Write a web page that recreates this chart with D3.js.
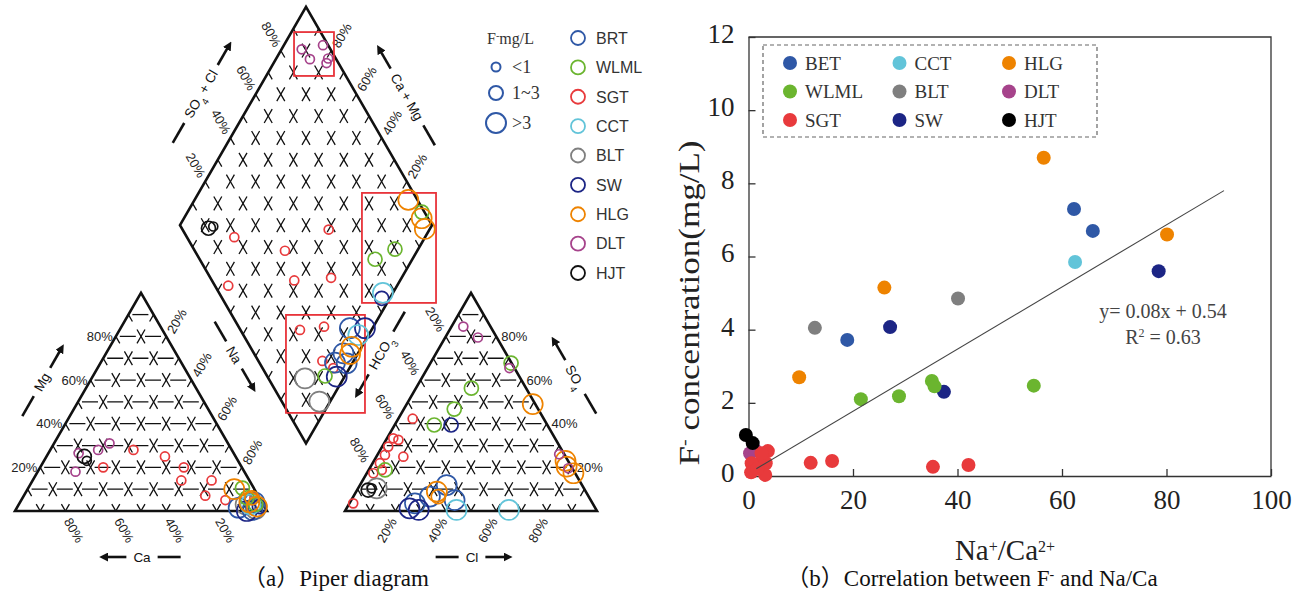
<!DOCTYPE html>
<html>
<head>
<meta charset="utf-8">
<script src="https://cdn.jsdelivr.net/npm/d3@7"></script>
<style>
body{margin:0;background:#fff;}
</style>
</head>
<body>
<div id="container"></div>
<script>
// ---------- piper data ----------
// sites in the piper legend
let siteNames = ["BRT","WLML","SGT","CCT","BLT","SW","HLG","DLT","HJT"];
let siteColors = ["#2f58a6","#6bb52f","#e83a3c","#62c4d9","#7f7f7f","#1c2585","#ee8300","#a6438b","#111111"];
let fClassLabels = ["<1","1~3",">3"];
let drawOrder = ["SGT","BLT","BRT","SW","CCT","WLML","HLG","DLT","HJT"];

// cation triangle: Mg %, Na+K %, F class (0 <1, 1 1~3, 2 >3)
let cationSite = ["DLT","DLT","DLT","DLT","HJT","HJT","SGT","SGT","SGT","SGT","SGT","SGT","SGT","SGT","SGT",
                  "BLT","BLT","BRT","BRT","BRT","SW","SW","CCT","WLML","WLML","WLML","HLG","HLG","HLG","HLG"];
let cationMg   = [18,26.5,28,31,25,23,20,28,25,20,14,14,7,5,6,
                  3,1,1.5,0.5,4,0,2,3,10.5,6,3,10,4,2,6];
let cationNa   = [15,12,19,22,15,17,25,33,47,57,59,71,72,81,92,
                  90,95,88,94,93,92,96,92,85,89,94,82,91,95,91];
let cationF    = [0,0,0,0,1,0,0,0,0,0,0,0,0,0,0,
                  2,2,2,2,2,2,1,2,1,1,1,2,2,2,1];

// anion triangle: SO4 %, Cl %, F class
let anionSite = ["DLT","DLT","DLT","DLT","DLT","WLML","WLML","WLML","WLML","WLML",
                 "HLG","HLG","HLG","HLG","HLG","HLG","SGT","SGT","SGT","SGT","SGT","SGT","SGT","SGT","SGT","SGT",
                 "SW","SW","SW","HJT","HJT","BLT","BRT","BRT","BRT","BRT","CCT","CCT"];
let anionSO4  = [84.5,79.5,65.5,26,19.6,67.8,56.3,46.7,39.4,18.8,
                 49,20.3,17.3,23,8.9,6.6,42.3,33.3,32.6,24.9,29.5,25.7,21.9,17.3,18.8,3.5,
                 39.4,0.5,1.2,9.6,10.4,10.4,11.9,3.5,6.6,5,0.5,0.5];
let anionCl   = [4.7,13,32.5,72,78.8,32,22,20,15.7,6.5,
                 50,77.8,82,76,32,33.7,5.7,2.5,4.9,10.7,2.4,3,2.9,2.6,5.2,1.5,
                 22.4,29,25,4.4,5.4,7.4,34.4,26,30.4,41,44,64.8];
let anionF    = [0,0,0,0,0,1,1,1,1,1,
                 2,2,2,2,2,1,0,0,0,0,0,0,0,0,0,0,
                 1,2,2,1,0,2,2,2,2,2,2,2];

// diamond: Na+K %, SO4+Cl %, F class
let diamondSite = ["DLT","DLT","DLT","DLT","DLT","HJT","HJT","SGT","SGT","SGT","SGT","SGT","SGT","SGT","SGT","SGT","SGT",
                   "HLG","HLG","HLG","HLG","HLG","WLML","WLML","WLML","WLML","CCT","CCT","SW","SW","SW",
                   "BRT","BRT","BRT","BRT","BLT","BLT"];
let diamondNa = [8,13.5,15.5,21,20.6,12,13.5,24.3,60,47.5,33,58,72,71.6,80.4,87.6,93.6,
                 84.8,94.3,98,96,97,93,85.2,90.8,92.1,96,95.9,96.8,97,96.9,
                 91,94.2,97.8,93,84.7,95.7];
let diamondSC = [88.6,89.6,98,95.3,97,10.6,12.9,18.8,58,35.8,5.3,32.7,47.9,23.6,33.9,25.4,28.1,
                 96.4,97.5,96.3,40.3,38,99,69.6,79.8,23,65,45.6,63.3,49.8,27.5,
                 43.8,35.5,34.5,30,14.5,14.9];
let diamondF  = [0,0,0,0,0,1,0,0,0,0,0,0,0,0,0,0,0,
                 2,2,2,2,2,1,1,1,1,2,2,1,2,2,
                 2,2,2,2,2,2];

// highlighted regions of the diamond (Na+K %, SO4+Cl % of two corners)
let boxNa0 = [1,64.8,62.6], boxSC0 = [89.5,79.6,21.5];
let boxNa1 = [26.9,119.4,116.4], boxSC1 = [95.3,83.8,30.4];

let gridSteps = [10,20,30,40,50,60,70,80,90];
let pctLabels = [20,40,60,80];

// ---------- scatter data ----------
let legendSites = ["BET","CCT","HLG","WLML","BLT","DLT","SGT","SW","HJT"];
let legendColors = ["#2f58a6","#62c4d9","#ee8300","#6bb52f","#7f7f7f","#a6438b","#e83a3c","#1c2585","#000000"];
let scatterSite = ["DLT","DLT",
  "HLG","HLG","HLG","HLG","BET","BET","BET","CCT","SW","SW","SW","BLT","BLT",
  "WLML","WLML","WLML","WLML","WLML",
  "SGT","SGT","SGT","SGT","SGT","SGT","SGT","SGT","SGT","SGT","SGT","SGT",
  "HJT","HJT"];
let naCaRatio = [0.3,1.2,
  56.5,80.1,26,9.7,62.3,65.9,18.9,62.5,78.5,27.1,37.4,40.1,12.7,
  35.1,35.6,54.6,21.5,28.8,
  11.9,16,35.3,42.1,3.7,2.7,0.6,3.3,0.5,3.2,1.7,2.5,
  -0.5,0.8];
let fConc = [0.62,0.72,
  8.7,6.6,5.15,2.7,7.3,6.7,3.72,5.85,5.6,4.07,2.3,4.85,4.05,
  2.6,2.45,2.47,2.1,2.18,
  0.36,0.41,0.25,0.3,0.68,0.5,0.35,0.35,0.1,0.03,0.2,0.62,
  1.12,0.9];
let trendX = [1.5, 91];
let trendY = [0.2, 7.8];
let xTicks = [0,20,40,60,80,100];
let yTicks = [0,2,4,6,8,10,12];

// ---------- svg ----------
let w = 1304, h = 598;
let viz = d3.select("#container").append("svg")
    .attr("width", w).attr("height", h)
    .style("font-family", "'Liberation Sans', Arial, sans-serif");

viz.append("defs").append("marker")
    .attr("id","arr").attr("viewBox","0 -5 10 10")
    .attr("refX",2).attr("refY",0)
    .attr("markerWidth",9).attr("markerHeight",9)
    .attr("markerUnits","userSpaceOnUse")
    .attr("orient","auto")
    .append("path").attr("d","M0,-5L10,0L0,5Z").attr("fill","#111");

// ---------- piper geometry ----------
let side = 252, tri = side * Math.sqrt(3) / 2, baseY = 511, catX = 15, gap = 78;
let anX = catX + side + gap;
let lenS = d3.scaleLinear().domain([0,100]).range([0, side]);
let lenH = d3.scaleLinear().domain([0,100]).range([0, tri]);
let dmBottom = [catX + side + gap/2, baseY - gap/2 * Math.sqrt(3)];
let dmLeft = [dmBottom[0] - side/2, dmBottom[1] - tri];

function catPos(mg, na){ return [catX + lenS(na) + lenS(mg)/2, baseY - lenH(mg)]; }
function anPos(so4, cl){ return [anX + lenS(cl) + lenS(so4)/2, baseY - lenH(so4)]; }
function dmPos(na, sc){ return [dmLeft[0] + lenS(na + sc)/2, dmLeft[1] + lenH(na - sc)]; }

let piper = viz.append("g").classed("piper", true);
let gridG = piper.append("g").attr("stroke","#111").attr("stroke-width",1.3).attr("fill","none");

// dashes: slanted ones cross at the 10% points, flat ones sit between them
function gridLine(p0, p1, horizontal){
    gridG.append("line")
        .attr("x1",p0[0]).attr("y1",p0[1]).attr("x2",p1[0]).attr("y2",p1[1])
        .attr("stroke-dasharray", "16 9.2")
        .attr("stroke-dashoffset", horizontal ? 21.2 : 8);
}

gridSteps.forEach(function(p){
    // cation triangle
    gridLine(catPos(p,0), catPos(p,100-p), true);
    gridLine(catPos(0,p), catPos(100-p,p), false);
    gridLine(catPos(0,100-p), catPos(100-p,0), false);
    // anion triangle
    gridLine(anPos(p,0), anPos(p,100-p), true);
    gridLine(anPos(0,p), anPos(100-p,p), false);
    gridLine(anPos(0,100-p), anPos(100-p,0), false);
    // diamond
    gridLine(dmPos(p,0), dmPos(p,100), false);
    gridLine(dmPos(0,p), dmPos(100,p), false);
});

let outline = d3.line();
let frameG = piper.append("g").attr("stroke","#111").attr("stroke-width",2.6).attr("fill","none").attr("stroke-linejoin","miter");
frameG.append("path").attr("d", outline([catPos(0,0), catPos(0,100), catPos(100,0)]) + "Z");
frameG.append("path").attr("d", outline([anPos(0,0), anPos(0,100), anPos(100,0)]) + "Z");
frameG.append("path").attr("d", outline([dmPos(0,0), dmPos(0,100), dmPos(100,100), dmPos(100,0)]) + "Z");

// percent labels
let pctG = piper.append("g").attr("font-size",13).attr("fill","#222");
function pctText(x, y, angle, anchor, label){
    pctG.append("text")
        .attr("transform","translate(" + x + "," + y + ") rotate(" + angle + ")")
        .attr("text-anchor", anchor).attr("dy","0.35em")
        .text(label + "%");
}
pctLabels.forEach(function(p){
    let q;
    q = catPos(p,0);        pctText(q[0]-3, q[1], 0, "end", p);          // Mg
    q = catPos(0,100-p);    pctText(q[0]+2, q[1]+8, 60, "start", p);     // Ca
    q = catPos(100-p,p);    pctText(q[0]+4, q[1]-4, -60, "start", p);    // Na
    q = anPos(100-p,0);     pctText(q[0]-4, q[1]-6, 60, "end", p);       // HCO3
    q = anPos(p,100-p);     pctText(q[0]+5, q[1], 0, "start", p);        // SO4
    q = anPos(0,p);         pctText(q[0]-2, q[1]+8, -60, "end", p);      // Cl
    q = dmPos(0,p);         pctText(q[0]-3, q[1]-5, 60, "end", p);       // SO4+Cl
    q = dmPos(p,100);       pctText(q[0]+4, q[1]-4, -60, "start", 100-p);// Ca+Mg
});

// axis names with dash and arrow
function axisName(cx, cy, angle, parts, arrowFirst){
    let g = piper.append("g").attr("transform","translate(" + cx + "," + cy + ") rotate(" + angle + ")");
    let t = g.append("text").attr("text-anchor","middle").attr("dy","0.35em").attr("font-size",13.5).attr("fill","#111");
    parts.forEach(function(p){
        let ts = t.append("tspan").text(p[0]);
        if (p[1]) ts.attr("font-size",9.5).attr("baseline-shift","sub");
    });
    let hw = t.node().getComputedTextLength()/2;
    let a0 = arrowFirst ? -hw-7 : hw+7;
    let a1 = arrowFirst ? -hw-27 : hw+27;
    let d0 = arrowFirst ? hw+7 : -hw-7;
    let d1 = arrowFirst ? hw+30 : -hw-30;
    g.append("line").attr("x1",a0).attr("y1",0).attr("x2",a1).attr("y2",0)
        .attr("stroke","#111").attr("stroke-width",2.6).attr("marker-end","url(#arr)");
    g.append("line").attr("x1",d0).attr("y1",0).attr("x2",d1).attr("y2",0)
        .attr("stroke","#111").attr("stroke-width",2.6);
}
axisName(42, 382, -60, [["Mg"]], false);
axisName(234, 355, 60, [["Na"]], false);
axisName(142, 557, 0, [["Ca"]], true);
axisName(472, 557, 0, [["Cl"]], false);
axisName(575, 377, 60, [["SO"],["4",true]], true);
axisName(381, 353, -60, [["HCO"],["3",true]], true);
axisName(201, 94, -60, [["SO"],["4",true],[" + Cl"]], false);
axisName(407, 97, 60, [["Ca + Mg"]], true);

// red boxes
let boxG = piper.append("g").attr("fill","none").attr("stroke","#e8333a").attr("stroke-width",1.8);
boxNa0.forEach(function(d,i){
    let a = dmPos(boxNa0[i], boxSC0[i]);
    let b = dmPos(boxNa1[i], boxSC1[i]);
    boxG.append("rect").attr("x",a[0]).attr("y",a[1]).attr("width",b[0]-a[0]).attr("height",b[1]-a[1]);
});

// sample circles
let colorOf = d3.scaleOrdinal().domain(siteNames).range(siteColors);
let rOf = d3.scaleOrdinal().domain([0,1,2]).range([4.5,7,10]);

function drawSamples(sites, posFn, va, vb, fc){
    let rows = sites.map(function(s,i){ return {site:s, p:posFn(va[i], vb[i]), f:fc[i]}; });
    rows.sort(function(a,b){ return drawOrder.indexOf(a.site) - drawOrder.indexOf(b.site); });
    piper.append("g").selectAll("circle").data(rows).enter().append("circle")
        .attr("cx", function(d){ return d.p[0]; })
        .attr("cy", function(d){ return d.p[1]; })
        .attr("r", function(d){ return rOf(d.f); })
        .attr("fill","none")
        .attr("stroke", function(d){ return colorOf(d.site); })
        .attr("stroke-width",1.7);
}
drawSamples(cationSite, catPos, cationMg, cationNa, cationF);
drawSamples(anionSite, anPos, anionSO4, anionCl, anionF);
drawSamples(diamondSite, dmPos, diamondNa, diamondSC, diamondF);

// F- size legend
let sizeLeg = piper.append("g").style("font-family","'Liberation Serif', 'Times New Roman', serif").attr("fill","#333");
let fTitle = sizeLeg.append("text").attr("x",487).attr("y",44).attr("font-size",16);
fTitle.append("tspan").text("F");
fTitle.append("tspan").attr("font-size",10).attr("baseline-shift","super").text("-");
fTitle.append("tspan").text("mg/L");
let sizeY = [67, 93, 123];
fClassLabels.forEach(function(lab,i){
    sizeLeg.append("circle").attr("cx",496).attr("cy",sizeY[i]).attr("r",rOf(i))
        .attr("fill","none").attr("stroke","#2f58a6").attr("stroke-width",2);
    sizeLeg.append("text").attr("x",512).attr("y",sizeY[i]).attr("dy","0.35em").attr("font-size",18).text(lab);
});

// site legend
let legY = d3.scaleLinear().domain([0, siteNames.length-1]).range([38, 273]);
let siteLeg = piper.append("g");
siteNames.forEach(function(s,i){
    siteLeg.append("circle").attr("cx",578).attr("cy",legY(i)).attr("r",7)
        .attr("fill","none").attr("stroke",siteColors[i]).attr("stroke-width",1.8);
    siteLeg.append("text").attr("x",596).attr("y",legY(i)).attr("dy","0.36em")
        .attr("font-size",16).attr("fill","#333").text(s);
});

// caption (a)
viz.append("text").attr("x",336).attr("y",586).attr("text-anchor","middle")
    .style("font-family","'Liberation Serif', 'Noto Sans CJK SC', serif")
    .attr("font-size",23).attr("fill","#111").text("（a）Piper diagram");

// ---------- scatter ----------
let xScale = d3.scaleLinear().domain([0,100]).range([748.5,1271]);
let yScale = d3.scaleLinear().domain([0,12]).range([476,37]);
let sc = viz.append("g").classed("scatter", true).style("font-family","'Liberation Serif', 'Times New Roman', serif");

let xAxis = d3.axisBottom(xScale).tickValues(xTicks).tickSizeInner(-7).tickSizeOuter(0).tickPadding(14);
let yAxis = d3.axisLeft(yScale).tickValues(yTicks).tickSizeInner(-7).tickSizeOuter(0).tickPadding(14);
let xAxisGroup = sc.append("g").attr("transform","translate(0," + yScale(0) + ")").call(xAxis);
let yAxisGroup = sc.append("g").attr("transform","translate(" + xScale(0) + ",0)").call(yAxis);
[xAxisGroup, yAxisGroup].forEach(function(g){
    g.selectAll("path, line").attr("stroke","#333").attr("stroke-width",1.3);
    g.selectAll("text").attr("font-size",27).attr("fill","#222").style("font-family","'Liberation Serif', serif");
});
yAxisGroup.selectAll("text").attr("dy","0.2em");

// top and right frame
sc.append("path")
    .attr("d", d3.line()([[xScale(0), yScale(12)], [xScale(100), yScale(12)], [xScale(100), yScale(0)]]))
    .attr("fill","none").attr("stroke","#333").attr("stroke-width",1.3);

// legend box
sc.append("rect").attr("x",763).attr("y",45).attr("width",334).attr("height",92)
    .attr("fill","none").attr("stroke","#666").attr("stroke-width",1.2).attr("stroke-dasharray","4 3");
let colX = d3.scaleLinear().domain([0,2]).range([790,1009]);
let rowY = d3.scaleLinear().domain([0,2]).range([63,120]);
legendSites.forEach(function(s,i){
    let cx = colX(i % 3), cy = rowY(Math.floor(i / 3));
    sc.append("circle").attr("cx",cx).attr("cy",cy).attr("r",7).attr("fill",legendColors[i]);
    sc.append("text").attr("x",cx+15).attr("y",cy).attr("dy","0.35em")
        .attr("font-size",19).attr("fill","#333").text(s);
});

// points
let sColor = d3.scaleOrdinal().domain(legendSites).range(legendColors);
sc.append("g").selectAll("circle")
    .data(scatterSite.map(function(s,i){ return {site:s, x:naCaRatio[i], y:fConc[i]}; }))
    .enter().append("circle")
    .attr("cx", function(d){ return xScale(d.x); })
    .attr("cy", function(d){ return yScale(d.y); })
    .attr("r", 7)
    .attr("fill", function(d){ return sColor(d.site); });

// trend line
sc.append("line")
    .attr("x1", xScale(trendX[0])).attr("y1", yScale(trendY[0]))
    .attr("x2", xScale(trendX[1])).attr("y2", yScale(trendY[1]))
    .attr("stroke","#444").attr("stroke-width",1.1);

sc.append("text").attr("x",1163).attr("y",318).attr("text-anchor","middle")
    .attr("font-size",20).attr("fill","#444").text("y= 0.08x + 0.54");
let r2 = sc.append("text").attr("x",1163).attr("y",344).attr("text-anchor","middle")
    .attr("font-size",20).attr("fill","#444");
r2.append("tspan").text("R");
r2.append("tspan").attr("font-size",12).attr("baseline-shift","super").text("2");
r2.append("tspan").text(" = 0.63");

// axis titles
let yTitle = sc.append("text").attr("transform","translate(699,303) rotate(-90)")
    .attr("text-anchor","middle").attr("font-size",30).attr("fill","#222")
    .attr("textLength",325).attr("lengthAdjust","spacingAndGlyphs");
yTitle.append("tspan").text("F");
yTitle.append("tspan").attr("font-size",17).attr("baseline-shift","super").text("-");
yTitle.append("tspan").text(" concentration(mg/L)");

let xTitle = sc.append("text").attr("x",1005).attr("y",560).attr("text-anchor","middle")
    .attr("font-size",29).attr("fill","#222");
xTitle.append("tspan").text("Na");
xTitle.append("tspan").attr("font-size",16).attr("baseline-shift","super").text("+");
xTitle.append("tspan").text("/Ca");
xTitle.append("tspan").attr("font-size",16).attr("baseline-shift","super").text("2+");

let capB = viz.append("text").attr("x",972).attr("y",586).attr("text-anchor","middle")
    .style("font-family","'Liberation Serif', 'Noto Sans CJK SC', serif")
    .attr("font-size",23).attr("fill","#111");
capB.append("tspan").text("（b）Correlation between F");
capB.append("tspan").attr("font-size",14).attr("baseline-shift","super").text("-");
capB.append("tspan").text(" and Na/Ca");
</script>
</body>
</html>
